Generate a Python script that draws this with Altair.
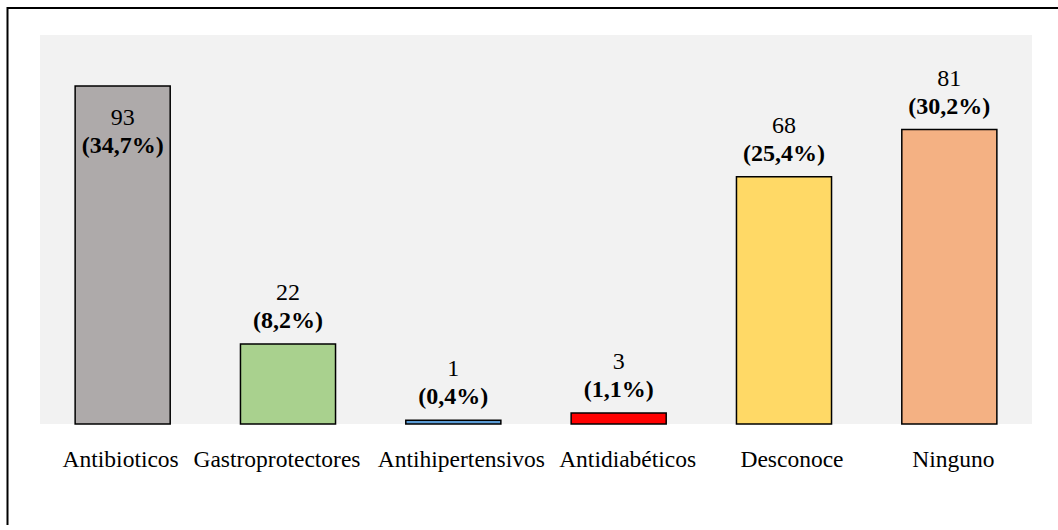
import altair as alt
import pandas as pd

# Medication groups and patient counts
categories = ["Antibioticos", "Gastroprotectores", "Antihipertensivos",
              "Antidiabéticos", "Desconoce", "Ninguno"]
counts = [93, 22, 1, 3, 68, 81]
percents = [34.7, 8.2, 0.4, 1.1, 25.4, 30.2]
colors = ["#AEAAAA", "#A9D18E", "#5B9BD5", "#FF0000", "#FFD966", "#F4B183"]
# small horizontal nudges so the long category names do not collide
label_nudge = [-2, -11, 8, 9, 8, 4]

df = pd.DataFrame({
    "cat": categories,
    "n": counts,
    "pct": [f"({p:.1f}%)".replace(".", ",") for p in percents],
    "color": colors,
})
df["inside"] = df["n"] > 90

nudge_expr = " : ".join(
    f"datum.value === '{c}' ? {d}" for c, d in zip(categories, label_nudge)
) + " : 0"

FONT = "Liberation Serif"
x_enc = alt.X("cat:N", sort=categories,
              scale=alt.Scale(paddingInner=0.425, paddingOuter=0.2125),
              axis=alt.Axis(title=None, labelAngle=0, domain=False, ticks=False,
                            labelFont=FONT, labelFontSize=23.5, labelColor="black",
                            labelPadding=23, labelOffset={"expr": nudge_expr}))
y_enc = alt.Y("n:Q", scale=alt.Scale(domain=[0, 107], nice=False), axis=None)

base = alt.Chart(df)

bars = base.mark_bar(stroke="black", strokeWidth=1.5).encode(
    x=x_enc, y=y_enc,
    color=alt.Color("color:N", scale=None),
)

outside = base.transform_filter("!datum.inside")
inside = base.transform_filter("datum.inside")

txt_style = dict(font=FONT, fontSize=24, color="black", baseline="alphabetic")
xs = alt.X("cat:N", sort=categories)

out_n = outside.mark_text(dy=-44, **txt_style).encode(x=xs, y="n:Q", text="n:Q")
out_p = outside.mark_text(dy=-16, fontWeight="bold", **txt_style).encode(x=xs, y="n:Q", text="pct:N")
in_n = inside.mark_text(dy=39, **txt_style).encode(x=xs, y="n:Q", text="n:Q")
in_p = inside.mark_text(dy=67, fontWeight="bold", **txt_style).encode(x=xs, y="n:Q", text="pct:N")

# Figure frame: only its left and top edges fall inside the canvas
frame = alt.Chart(pd.DataFrame({"k": [0]})).mark_rect(
    fill=None, fillOpacity=0, stroke="black", strokeWidth=2, clip=False
).encode(
    x=alt.value(-32.5), x2=alt.value(1040), y=alt.value(-27), y2=alt.value(560)
)

chart = alt.layer(bars, out_n, out_p, in_n, in_p, frame).properties(
    width=992, height=389,
    autosize=alt.AutoSizeParams(type="none"),
    padding={"left": 40, "top": 35, "right": 26, "bottom": 101},
    background="white",
).configure_view(fill="#F2F2F2", stroke=None)

chart.save("out.html", embed_options={"renderer": "svg", "actions": False})
